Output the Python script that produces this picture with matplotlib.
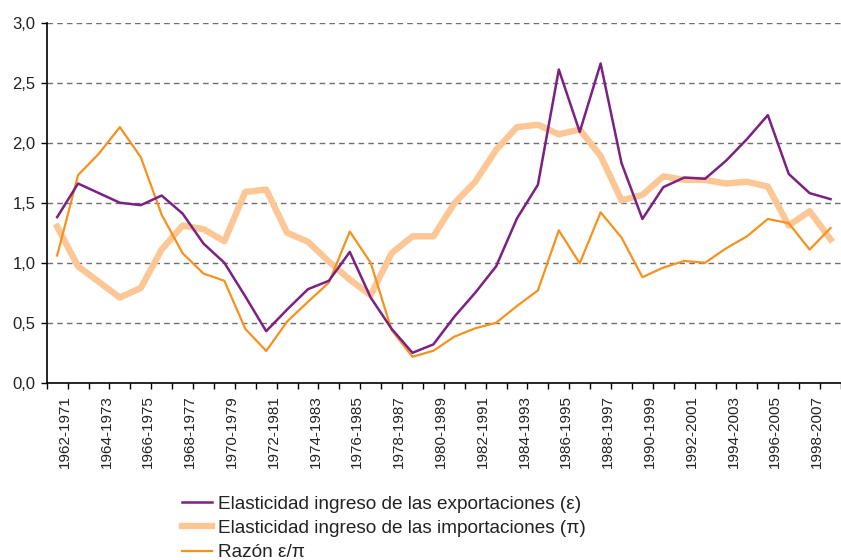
import matplotlib
matplotlib.use("Agg")
import matplotlib.pyplot as plt
import matplotlib.transforms as mtransforms
import numpy as np

# ===================== datos =====================
periods = [f"{y}-{y + 9}" for y in range(1962, 2000)]

exportaciones = [1.38, 1.66, 1.58, 1.50, 1.48, 1.56, 1.41, 1.16, 1.00, 0.72,
                 0.43, 0.61, 0.78, 0.85, 1.09, 0.71, 0.45, 0.25, 0.32, 0.55,
                 0.75, 0.97, 1.37, 1.65, 2.61, 2.09, 2.66, 1.83, 1.365, 1.63,
                 1.71, 1.70, 1.85, 2.03, 2.23, 1.74, 1.58, 1.53]

importaciones = [1.30, 0.97, 0.84, 0.71, 0.79, 1.11, 1.31, 1.28, 1.18, 1.59,
                 1.61, 1.25, 1.175, 1.01, 0.86, 0.73, 1.08, 1.22, 1.22, 1.495,
                 1.675, 1.94, 2.13, 2.15, 2.07, 2.11, 1.89, 1.52, 1.565, 1.72,
                 1.69, 1.69, 1.66, 1.675, 1.635, 1.31, 1.43, 1.195]

razon = [1.06, 1.73, 1.91, 2.13, 1.88, 1.40, 1.08, 0.91, 0.85, 0.45,
         0.265, 0.51, 0.675, 0.835, 1.26, 1.00, 0.44, 0.217, 0.267, 0.384,
         0.454, 0.50, 0.64, 0.77, 1.27, 0.995, 1.42, 1.21, 0.88, 0.96,
         1.015, 1.00, 1.12, 1.22, 1.365, 1.33, 1.11, 1.29]

y_ticks = [0.0, 0.5, 1.0, 1.5, 2.0, 2.5, 3.0]

labels = ["Elasticidad ingreso de las exportaciones (ε)",
          "Elasticidad ingreso de las importaciones (π)",
          "Razón ε/π"]

# ===================== figura =====================
plt.rcParams['font.family'] = ['Liberation Sans', 'DejaVu Sans']

fig = plt.figure(figsize=(8.41, 5.60), dpi=100)
ax = fig.add_axes([46.7 / 841, (560 - 382.8) / 560, (841 - 46.7) / 841, (382.8 - 22.7) / 560])

x = np.arange(len(periods))
ax.plot(x, exportaciones, color="#7B2182", lw=1.8, zorder=4, label=labels[0])
ax.plot(x, importaciones, color="#FCC795", lw=4.6, zorder=2, label=labels[1])
ax.plot(x, razon, color="#F5921F", lw=1.6, zorder=3, label=labels[2])

ax.set_xlim(-0.5, -0.5 + (841 - 46.7) / 20.99)
ax.set_ylim(0, 3.0)

# rejilla
ax.set_yticks(y_ticks)
ax.set_yticklabels([f"{v:.1f}".replace(".", ",") for v in y_ticks], fontsize=12, color="#222222")
for v in y_ticks[1:]:
    ax.axhline(v, color="#707070", lw=1.0, ls=(0, (4, 3)), zorder=1)

# ticks en los límites de las categorías, etiquetas cada dos periodos
ax.set_xticks(np.arange(len(periods) + 1) - 0.5, minor=True)
ax.set_xticks(x[::2])
ax.set_xticklabels(periods[::2], rotation=90, fontsize=11, color="#222222")
ax.tick_params(axis="x", which="major", length=0, pad=9)
ax.tick_params(axis="x", which="minor", length=4, width=1.0, direction="out")
ax.tick_params(axis="y", length=4, width=1.0, direction="out", pad=4)
offset = mtransforms.ScaledTranslation(0.075, 0, fig.dpi_scale_trans)
for lab in ax.get_xticklabels():
    lab.set_transform(lab.get_transform() + offset)

for s in ["top", "right"]:
    ax.spines[s].set_visible(False)
for s in ["left", "bottom"]:
    ax.spines[s].set_linewidth(1.2)
    ax.spines[s].set_zorder(5)

leg = fig.legend(loc="upper left", bbox_to_anchor=(174 / 841, 1 - 488 / 560),
                 frameon=False, handlelength=1.6, handletextpad=0.3,
                 labelspacing=0.36, borderaxespad=0,
                 prop={"family": ["Liberation Sans", "DejaVu Sans"], "size": 13.7})
for t in leg.get_texts():
    t.set_color("#222222")

fig.savefig("out.png", dpi=100)
